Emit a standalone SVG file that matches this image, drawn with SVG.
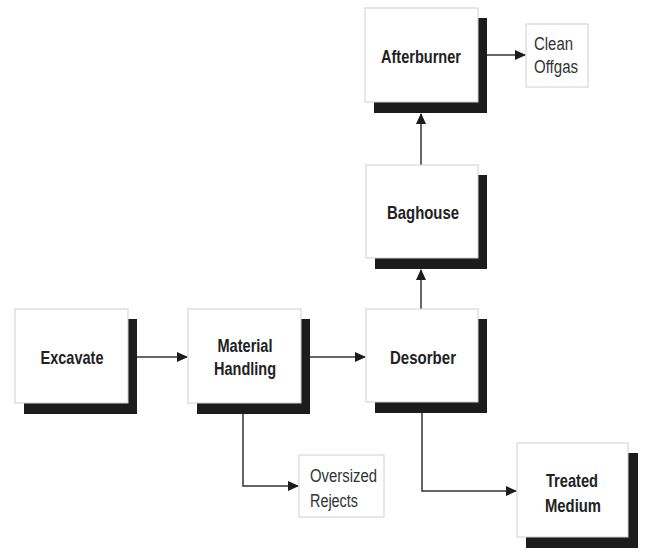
<svg xmlns="http://www.w3.org/2000/svg" width="645" height="555" viewBox="0 0 645 555">
<style>
.box{fill:#fff;stroke:#cfcfcf;stroke-width:1}
.sh{fill:#1c1c1c}
.t{font-family:"Liberation Sans",Arial,sans-serif;font-weight:bold;font-size:19px;fill:#222;text-anchor:middle}
.n{font-family:"Liberation Sans",Arial,sans-serif;font-size:18px;fill:#333}
.c{fill:none;stroke:#333;stroke-width:1.5}
</style>
<defs>
<marker id="ah" markerWidth="11" markerHeight="11" refX="10" refY="5.5" orient="auto" markerUnits="userSpaceOnUse">
<path d="M0,0.5 L11,5.5 L0,10.5 Z" fill="#1c1c1c"/>
</marker>
</defs>
<rect width="645" height="555" fill="#fff"/>
<g id="connectors">
<path class="c" d="M137,357 H187" marker-end="url(#ah)"/>
<path class="c" d="M310,357 H365" marker-end="url(#ah)"/>
<path class="c" d="M421,309 V270" marker-end="url(#ah)"/>
<path class="c" d="M421,165 V114" marker-end="url(#ah)"/>
<path class="c" d="M487,55 H525" marker-end="url(#ah)"/>
<path class="c" d="M243,414 V486 H298" marker-end="url(#ah)"/>
<path class="c" d="M422,413 V491 H516" marker-end="url(#ah)"/>
</g>
<g id="excavate">
<rect class="sh" x="24" y="319" width="113" height="95"/>
<rect class="box" x="15" y="309" width="113" height="94"/>
<text class="t" x="72" y="364" textLength="63" lengthAdjust="spacingAndGlyphs">Excavate</text>
</g>
<g id="material-handling">
<rect class="sh" x="197" y="319" width="113" height="95"/>
<rect class="box" x="188" y="309" width="113" height="94"/>
<text class="t" x="245" y="352" textLength="55" lengthAdjust="spacingAndGlyphs">Material</text>
<text class="t" x="245" y="375" textLength="62" lengthAdjust="spacingAndGlyphs">Handling</text>
</g>
<g id="desorber">
<rect class="sh" x="375" y="319" width="112" height="94"/>
<rect class="box" x="366" y="309" width="112" height="93"/>
<text class="t" x="423" y="364" textLength="66" lengthAdjust="spacingAndGlyphs">Desorber</text>
</g>
<g id="baghouse">
<rect class="sh" x="375" y="175" width="112" height="94"/>
<rect class="box" x="366" y="165" width="112" height="93"/>
<text class="t" x="423" y="219" textLength="72" lengthAdjust="spacingAndGlyphs">Baghouse</text>
</g>
<g id="afterburner">
<rect class="sh" x="374" y="18" width="113" height="95"/>
<rect class="box" x="365" y="8" width="113" height="94"/>
<text class="t" x="421" y="63" textLength="80" lengthAdjust="spacingAndGlyphs">Afterburner</text>
</g>
<g id="clean-offgas">
<rect class="box" x="526" y="24" width="62" height="63"/>
<text class="n" x="534" y="50" textLength="39" lengthAdjust="spacingAndGlyphs">Clean</text>
<text class="n" x="534" y="73" textLength="44" lengthAdjust="spacingAndGlyphs">Offgas</text>
</g>
<g id="oversized-rejects">
<rect class="box" x="299" y="455" width="85" height="62"/>
<text class="n" x="310" y="482" textLength="67" lengthAdjust="spacingAndGlyphs">Oversized</text>
<text class="n" x="310" y="507" textLength="48" lengthAdjust="spacingAndGlyphs">Rejects</text>
</g>
<g id="treated-medium">
<rect class="sh" x="526" y="453" width="112" height="95"/>
<rect class="box" x="517" y="443" width="111" height="94"/>
<text class="t" x="572" y="487" textLength="52" lengthAdjust="spacingAndGlyphs">Treated</text>
<text class="t" x="573" y="512" textLength="56" lengthAdjust="spacingAndGlyphs">Medium</text>
</g>
</svg>
